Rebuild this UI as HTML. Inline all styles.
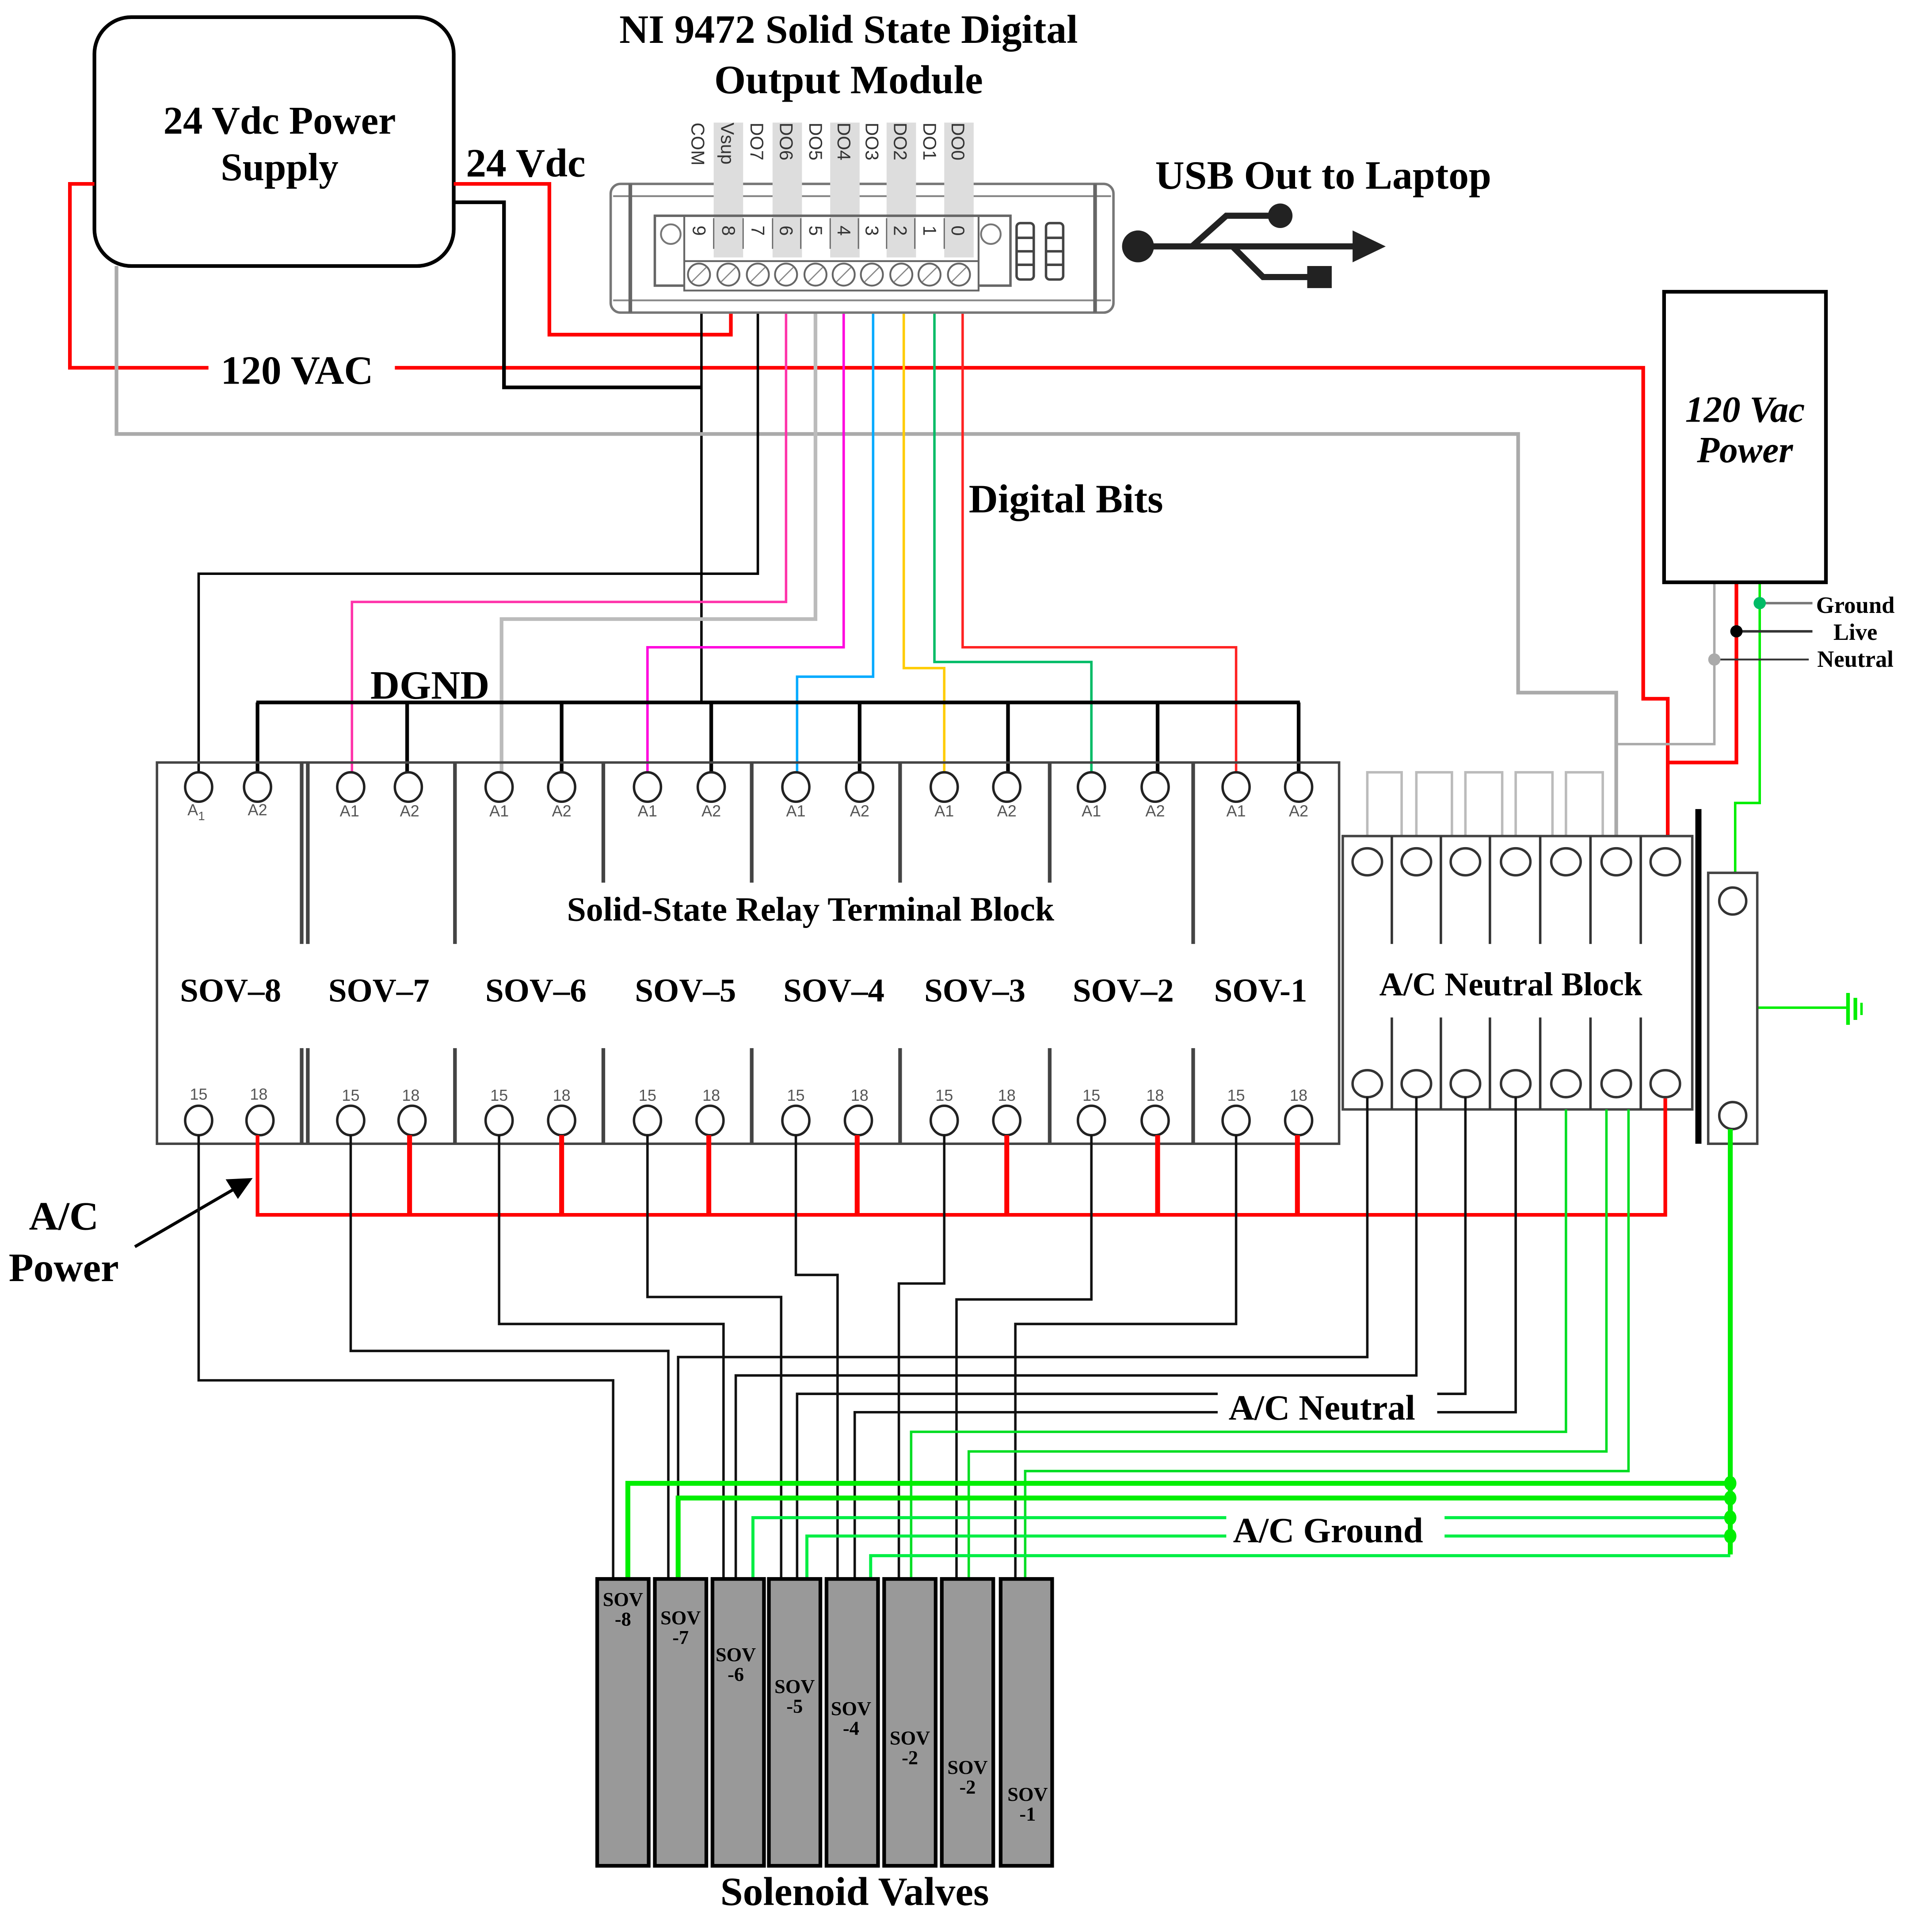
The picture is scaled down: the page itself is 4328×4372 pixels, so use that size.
<!DOCTYPE html>
<html><head><meta charset="utf-8"><style>
html,body{margin:0;padding:0;background:#fff;}
svg{display:block;}
text{font-family:"Liberation Serif",serif;font-weight:bold;fill:#000;}
.s{font-family:"Liberation Sans",sans-serif;font-weight:normal;fill:#555;}
</style></head><body>
<svg xmlns="http://www.w3.org/2000/svg" width="4328" height="4372" viewBox="0 0 1560 1576" preserveAspectRatio="none">
<g fill="none" stroke-linejoin="miter">
<rect x="77" y="14" width="293" height="203" rx="30" stroke="#000" stroke-width="3"/>
<polyline points="77,150 57,150 57,300 170,300" stroke="#f00" stroke-width="3"/>
<polyline points="322,300 1340,300 1340,570 1360,570 1360,682" stroke="#f00" stroke-width="3"/>
<polyline points="1416,476 1416,622 1360,622" stroke="#f00" stroke-width="3"/>
<polyline points="370,150 448,150 448,273 596,273 596,236" stroke="#f00" stroke-width="3"/>
<polyline points="370,165 411,165 411,316 572,316" stroke="#000" stroke-width="3"/>
<line x1="572" y1="236" x2="572" y2="573" stroke="#000" stroke-width="2"/>
<polyline points="95,217 95,354 1238,354 1238,565 1318,565 1318,682" stroke="#aaa" stroke-width="3"/>
<polyline points="1318,607 1398,607 1398,476" stroke="#aaa" stroke-width="2"/>
<polyline points="1435,476 1435,655 1415,655 1415,712" stroke="#0e0" stroke-width="2"/>
<line x1="1433" y1="822" x2="1507" y2="822" stroke="#0e0" stroke-width="2"/>
<line x1="1507" y1="810" x2="1507" y2="836" stroke="#0e0" stroke-width="3"/>
<line x1="1513" y1="814" x2="1513" y2="832" stroke="#0e0" stroke-width="3"/>
<line x1="1518" y1="818" x2="1518" y2="828" stroke="#0e0" stroke-width="2"/>
<polyline points="618,236 618,468 162,468 162,631" stroke="#000" stroke-width="2"/>
<polyline points="641,236 641,491 287,491 287,631" stroke="#f3a" stroke-width="2"/>
<polyline points="665,236 665,505 409,505 409,631" stroke="#bbb" stroke-width="3"/>
<polyline points="688,236 688,528 528,528 528,631" stroke="#f0d" stroke-width="2"/>
<polyline points="712,236 712,552 650,552 650,631" stroke="#0af" stroke-width="2"/>
<polyline points="737,236 737,545 770,545 770,631" stroke="#fc0" stroke-width="2"/>
<polyline points="762,236 762,540 890,540 890,631" stroke="#0b6" stroke-width="2"/>
<polyline points="785,236 785,528 1008,528 1008,631" stroke="#f22" stroke-width="2"/>
<line x1="209" y1="573" x2="1060" y2="573" stroke="#000" stroke-width="3"/>
<g stroke="#000" stroke-width="3">
<line x1="210" y1="573" x2="210" y2="631"/><line x1="332" y1="573" x2="332" y2="631"/>
<line x1="458" y1="573" x2="458" y2="631"/><line x1="580" y1="573" x2="580" y2="631"/>
<line x1="701" y1="573" x2="701" y2="631"/><line x1="822" y1="573" x2="822" y2="631"/>
<line x1="944" y1="573" x2="944" y2="631"/><line x1="1059" y1="573" x2="1059" y2="631"/>
</g>
<rect x="128" y="622" width="964" height="311" stroke="#444" stroke-width="2"/>
<g stroke="#444" stroke-width="3">
<line x1="246" y1="622" x2="246" y2="770"/><line x1="251" y1="622" x2="251" y2="770"/>
<line x1="246" y1="855" x2="246" y2="933"/><line x1="251" y1="855" x2="251" y2="933"/>
<line x1="371" y1="622" x2="371" y2="770"/><line x1="371" y1="855" x2="371" y2="933"/>
<line x1="492" y1="622" x2="492" y2="720"/><line x1="492" y1="855" x2="492" y2="933"/>
<line x1="613" y1="622" x2="613" y2="720"/><line x1="613" y1="855" x2="613" y2="933"/>
<line x1="734" y1="622" x2="734" y2="720"/><line x1="734" y1="855" x2="734" y2="933"/>
<line x1="856" y1="622" x2="856" y2="720"/><line x1="856" y1="855" x2="856" y2="933"/>
<line x1="973" y1="622" x2="973" y2="770"/><line x1="973" y1="855" x2="973" y2="933"/>
</g>
<g stroke="#222" stroke-width="2" fill="#fff">
<ellipse cx="162" cy="642" rx="11" ry="12"/><ellipse cx="210" cy="642" rx="11" ry="12"/>
<ellipse cx="286" cy="642" rx="11" ry="12"/><ellipse cx="333" cy="642" rx="11" ry="12"/>
<ellipse cx="407" cy="642" rx="11" ry="12"/><ellipse cx="458" cy="642" rx="11" ry="12"/>
<ellipse cx="528" cy="642" rx="11" ry="12"/><ellipse cx="580" cy="642" rx="11" ry="12"/>
<ellipse cx="649" cy="642" rx="11" ry="12"/><ellipse cx="701" cy="642" rx="11" ry="12"/>
<ellipse cx="770" cy="642" rx="11" ry="12"/><ellipse cx="821" cy="642" rx="11" ry="12"/>
<ellipse cx="890" cy="642" rx="11" ry="12"/><ellipse cx="942" cy="642" rx="11" ry="12"/>
<ellipse cx="1008" cy="642" rx="11" ry="12"/><ellipse cx="1059" cy="642" rx="11" ry="12"/>
<ellipse cx="162" cy="914" rx="11" ry="12"/><ellipse cx="212" cy="914" rx="11" ry="12"/>
<ellipse cx="286" cy="914" rx="11" ry="12"/><ellipse cx="336" cy="914" rx="11" ry="12"/>
<ellipse cx="407" cy="914" rx="11" ry="12"/><ellipse cx="458" cy="914" rx="11" ry="12"/>
<ellipse cx="528" cy="914" rx="11" ry="12"/><ellipse cx="579" cy="914" rx="11" ry="12"/>
<ellipse cx="649" cy="914" rx="11" ry="12"/><ellipse cx="700" cy="914" rx="11" ry="12"/>
<ellipse cx="770" cy="914" rx="11" ry="12"/><ellipse cx="821" cy="914" rx="11" ry="12"/>
<ellipse cx="890" cy="914" rx="11" ry="12"/><ellipse cx="942" cy="914" rx="11" ry="12"/>
<ellipse cx="1008" cy="914" rx="11" ry="12"/><ellipse cx="1059" cy="914" rx="11" ry="12"/>
</g>
<g stroke="#bbb" stroke-width="2">
<polyline points="1115,682 1115,630 1143,630 1143,682"/>
<polyline points="1155,682 1155,630 1184,630 1184,682"/>
<polyline points="1195,682 1195,630 1225,630 1225,682"/>
<polyline points="1236,682 1236,630 1266,630 1266,682"/>
<polyline points="1277,682 1277,630 1307,630 1307,682"/>
</g>
<rect x="1095" y="682" width="285" height="223" stroke="#444" stroke-width="2"/>
<g stroke="#333" stroke-width="2">
<line x1="1135" y1="682" x2="1135" y2="770"/><line x1="1135" y1="830" x2="1135" y2="905"/>
<line x1="1175" y1="682" x2="1175" y2="770"/><line x1="1175" y1="830" x2="1175" y2="905"/>
<line x1="1215" y1="682" x2="1215" y2="770"/><line x1="1215" y1="830" x2="1215" y2="905"/>
<line x1="1256" y1="682" x2="1256" y2="770"/><line x1="1256" y1="830" x2="1256" y2="905"/>
<line x1="1297" y1="682" x2="1297" y2="770"/><line x1="1297" y1="830" x2="1297" y2="905"/>
<line x1="1338" y1="682" x2="1338" y2="770"/><line x1="1338" y1="830" x2="1338" y2="905"/>
</g>
<g stroke="#333" stroke-width="2" fill="#fff">
<ellipse cx="1115" cy="703" rx="12" ry="11"/><ellipse cx="1155" cy="703" rx="12" ry="11"/>
<ellipse cx="1195" cy="703" rx="12" ry="11"/><ellipse cx="1236" cy="703" rx="12" ry="11"/>
<ellipse cx="1277" cy="703" rx="12" ry="11"/><ellipse cx="1318" cy="703" rx="12" ry="11"/>
<ellipse cx="1358" cy="703" rx="12" ry="11"/>
<ellipse cx="1115" cy="884" rx="12" ry="11"/><ellipse cx="1155" cy="884" rx="12" ry="11"/>
<ellipse cx="1195" cy="884" rx="12" ry="11"/><ellipse cx="1236" cy="884" rx="12" ry="11"/>
<ellipse cx="1277" cy="884" rx="12" ry="11"/><ellipse cx="1318" cy="884" rx="12" ry="11"/>
<ellipse cx="1358" cy="884" rx="12" ry="11"/>
</g>
<line x1="1385" y1="660" x2="1385" y2="933" stroke="#000" stroke-width="5"/>
<rect x="1393" y="712" width="40" height="221" stroke="#444" stroke-width="2"/>
<ellipse cx="1413" cy="735" rx="11" ry="11" stroke="#333" stroke-width="2"/>
<ellipse cx="1413" cy="910" rx="11" ry="11" stroke="#333" stroke-width="2"/>
<rect x="1357" y="238" width="132" height="237" stroke="#000" stroke-width="3"/>
<line x1="1435" y1="492" x2="1478" y2="492" stroke="#777" stroke-width="2"/>
<line x1="1416" y1="515" x2="1478" y2="515" stroke="#333" stroke-width="2"/>
<line x1="1398" y1="538" x2="1475" y2="538" stroke="#333" stroke-width="1.5"/>
<circle cx="1435" cy="492" r="5" fill="#0b6" stroke="none"/>
<circle cx="1416" cy="515" r="5" fill="#000" stroke="none"/>
<circle cx="1398" cy="538" r="5" fill="#aaa" stroke="none"/>
<polyline points="210,926 210,991 1358,991 1358,896" stroke="#f00" stroke-width="3"/>
<g stroke="#f00" stroke-width="4">
<line x1="334" y1="926" x2="334" y2="991"/><line x1="458" y1="926" x2="458" y2="991"/>
<line x1="578" y1="926" x2="578" y2="991"/><line x1="699" y1="926" x2="699" y2="991"/>
<line x1="821" y1="926" x2="821" y2="991"/><line x1="944" y1="926" x2="944" y2="991"/>
<line x1="1058" y1="926" x2="1058" y2="991"/>
</g>
<line x1="110" y1="1017" x2="196" y2="967" stroke="#000" stroke-width="2.5"/>
<polygon points="206,961 184,962 194,978" fill="#000" stroke="none"/>
<g stroke="#111" stroke-width="2">
<polyline points="162,926 162,1126 500,1126 500,1288"/>
<polyline points="286,926 286,1102 545,1102 545,1288"/>
<polyline points="407,926 407,1080 590,1080 590,1288"/>
<polyline points="528,926 528,1058 637,1058 637,1288"/>
<polyline points="649,926 649,1040 683,1040 683,1288"/>
<polyline points="770,926 770,1047 733,1047 733,1288"/>
<polyline points="890,926 890,1060 780,1060 780,1288"/>
<polyline points="1008,926 1008,1080 828,1080 828,1288"/>
<polyline points="1115,895 1115,1107 553,1107 553,1288"/>
<polyline points="1155,895 1155,1122 600,1122 600,1288"/>
<polyline points="1195,895 1195,1137 1172,1137"/>
<polyline points="993,1137 650,1137 650,1288"/>
<polyline points="1236,895 1236,1152 1172,1152"/>
<polyline points="993,1152 697,1152 697,1288"/>
</g>
<g stroke="#0d2" stroke-width="2">
<polyline points="1277,905 1277,1168 743,1168 743,1288"/>
<polyline points="1310,905 1310,1184 790,1184 790,1288"/>
<polyline points="1328,905 1328,1200 836,1200 836,1288"/>
</g>
<line x1="1411" y1="921" x2="1411" y2="1268" stroke="#0e0" stroke-width="4"/>
<polyline points="1411,1210 512,1210 512,1288" stroke="#0e0" stroke-width="4"/>
<polyline points="1411,1222 553,1222 553,1288" stroke="#0e0" stroke-width="4"/>
<polyline points="1411,1238 1178,1238" stroke="#0e4" stroke-width="2.5"/>
<polyline points="1000,1238 614,1238 614,1288" stroke="#0e4" stroke-width="2.5"/>
<polyline points="1411,1253 1178,1253" stroke="#0e4" stroke-width="2.5"/>
<polyline points="1000,1253 658,1253 658,1288" stroke="#0e4" stroke-width="2.5"/>
<polyline points="1411,1269 710,1269 710,1288" stroke="#0e4" stroke-width="2.5"/>
<g fill="#0e0" stroke="none">
<ellipse cx="1411" cy="1210" rx="5" ry="6"/><ellipse cx="1411" cy="1222" rx="5" ry="6"/>
<ellipse cx="1411" cy="1238" rx="5" ry="6"/><ellipse cx="1411" cy="1253" rx="5" ry="6"/>
</g>
<g fill="#999" stroke="#000" stroke-width="3">
<rect x="487" y="1288" width="42" height="234"/><rect x="534" y="1288" width="42" height="234"/>
<rect x="581" y="1288" width="42" height="234"/><rect x="627" y="1288" width="42" height="234"/>
<rect x="674" y="1288" width="42" height="234"/><rect x="721" y="1288" width="42" height="234"/>
<rect x="768" y="1288" width="42" height="234"/><rect x="816" y="1288" width="42" height="234"/>
</g>
<rect x="498" y="150" width="410" height="105" rx="8" fill="#fff" stroke="#777" stroke-width="2"/>
<line x1="500" y1="160" x2="906" y2="160" stroke="#888" stroke-width="1.5"/>
<line x1="500" y1="245" x2="906" y2="245" stroke="#888" stroke-width="1.5"/>
<line x1="514" y1="150" x2="514" y2="255" stroke="#666" stroke-width="3"/>
<line x1="893" y1="150" x2="893" y2="255" stroke="#666" stroke-width="3"/>
<g fill="#ddd" stroke="none">
<rect x="582" y="100" width="24" height="110"/><rect x="630" y="100" width="24" height="110"/>
<rect x="677" y="100" width="24" height="110"/><rect x="723" y="100" width="24" height="110"/>
<rect x="770" y="100" width="24" height="110"/>
</g>
<rect x="534" y="176" width="290" height="57" fill="none" stroke="#666" stroke-width="2"/>
<rect x="558" y="176" width="240" height="60" fill="none" stroke="#666" stroke-width="1.5"/>
<rect x="558" y="213" width="240" height="24" fill="#fff" stroke="#666" stroke-width="1.5"/>
<g stroke="#666" stroke-width="1">
<line x1="582" y1="178" x2="582" y2="203"/><line x1="606" y1="178" x2="606" y2="203"/>
<line x1="630" y1="178" x2="630" y2="203"/><line x1="653" y1="178" x2="653" y2="203"/>
<line x1="677" y1="178" x2="677" y2="203"/><line x1="700" y1="178" x2="700" y2="203"/>
<line x1="723" y1="178" x2="723" y2="203"/><line x1="746" y1="178" x2="746" y2="203"/>
<line x1="770" y1="178" x2="770" y2="203"/>
</g>
<circle cx="547" cy="191" r="8" stroke="#777" stroke-width="1.5"/>
<circle cx="808" cy="191" r="8" stroke="#777" stroke-width="1.5"/>
<g stroke="#666" stroke-width="1.5" fill="#fff">
<ellipse cx="570" cy="224" rx="9" ry="9"/><ellipse cx="594" cy="224" rx="9" ry="9"/>
<ellipse cx="618" cy="224" rx="9" ry="9"/><ellipse cx="641" cy="224" rx="9" ry="9"/>
<ellipse cx="665" cy="224" rx="9" ry="9"/><ellipse cx="688" cy="224" rx="9" ry="9"/>
<ellipse cx="711" cy="224" rx="9" ry="9"/><ellipse cx="735" cy="224" rx="9" ry="9"/>
<ellipse cx="758" cy="224" rx="9" ry="9"/><ellipse cx="782" cy="224" rx="9" ry="9"/>
</g>
<g stroke="#888" stroke-width="1">
<line x1="564" y1="230" x2="576" y2="218"/><line x1="588" y1="230" x2="600" y2="218"/>
<line x1="612" y1="230" x2="624" y2="218"/><line x1="635" y1="230" x2="647" y2="218"/>
<line x1="659" y1="230" x2="671" y2="218"/><line x1="682" y1="230" x2="694" y2="218"/>
<line x1="705" y1="230" x2="717" y2="218"/><line x1="729" y1="230" x2="741" y2="218"/>
<line x1="752" y1="230" x2="764" y2="218"/><line x1="776" y1="230" x2="788" y2="218"/>
</g>
<g stroke="#444" stroke-width="2">
<rect x="829" y="182" width="14" height="46" rx="3"/><rect x="853" y="182" width="14" height="46" rx="3"/>
<line x1="829" y1="194" x2="843" y2="194"/><line x1="829" y1="205" x2="843" y2="205"/><line x1="829" y1="216" x2="843" y2="216"/>
<line x1="853" y1="194" x2="867" y2="194"/><line x1="853" y1="205" x2="867" y2="205"/><line x1="853" y1="216" x2="867" y2="216"/>
</g>
<circle cx="928" cy="201" r="13" fill="#222" stroke="none"/>
<line x1="928" y1="201" x2="1110" y2="201" stroke="#222" stroke-width="5"/>
<polygon points="1130,201 1103,188 1103,214" fill="#222" stroke="none"/>
<polyline points="972,201 1000,176 1044,176" stroke="#222" stroke-width="5"/>
<circle cx="1044" cy="176" r="10" fill="#222" stroke="none"/>
<polyline points="1005,201 1030,226 1068,226" stroke="#222" stroke-width="5"/>
<rect x="1066" y="217" width="20" height="18" fill="#222" stroke="none"/>
</g>
<text x="228" y="109" font-size="32" text-anchor="middle">24 Vdc Power</text>
<text x="228" y="147" font-size="32" text-anchor="middle">Supply</text>
<text x="692" y="35" font-size="33" text-anchor="middle">NI 9472 Solid State Digital</text>
<text x="692" y="76" font-size="33" text-anchor="middle">Output Module</text>
<text x="380" y="144" font-size="33">24 Vdc</text>
<text x="180" y="313" font-size="33">120 VAC</text>
<text x="942" y="154" font-size="33">USB Out to Laptop</text>
<text x="790" y="418" font-size="33">Digital Bits</text>
<text x="302" y="570" font-size="33">DGND</text>
<text x="661" y="751" font-size="28" text-anchor="middle">Solid-State Relay Terminal Block</text>
<g font-size="27" text-anchor="middle">
<text x="188" y="817">SOV–8</text><text x="309" y="817">SOV–7</text><text x="437" y="817">SOV–6</text>
<text x="559" y="817">SOV–5</text><text x="680" y="817">SOV–4</text><text x="795" y="817">SOV–3</text>
<text x="916" y="817">SOV–2</text><text x="1028" y="817">SOV-1</text>
<text x="1232" y="812">A/C Neutral Block</text>
</g>
<g font-style="italic" font-size="30" text-anchor="middle">
<text x="1423" y="344">120 Vac</text><text x="1423" y="377">Power</text>
</g>
<g font-size="19" text-anchor="middle">
<text x="1513" y="500">Ground</text><text x="1513" y="522">Live</text><text x="1513" y="544">Neutral</text>
</g>
<text x="52" y="1003" font-size="33" text-anchor="middle">A/C</text>
<text x="52" y="1045" font-size="33" text-anchor="middle">Power</text>
<text x="1078" y="1158" font-size="29" text-anchor="middle">A/C Neutral</text>
<text x="1083" y="1258" font-size="29" text-anchor="middle">A/C Ground</text>
<text x="697" y="1554" font-size="33" text-anchor="middle">Solenoid Valves</text>
<g font-size="16" text-anchor="middle">
<text x="508" y="1310">SOV</text><text x="508" y="1326">-8</text>
<text x="555" y="1325">SOV</text><text x="555" y="1341">-7</text>
<text x="600" y="1355">SOV</text><text x="600" y="1371">-6</text>
<text x="648" y="1381">SOV</text><text x="648" y="1397">-5</text>
<text x="694" y="1399">SOV</text><text x="694" y="1415">-4</text>
<text x="742" y="1423">SOV</text><text x="742" y="1439">-2</text>
<text x="789" y="1447">SOV</text><text x="789" y="1463">-2</text>
<text x="838" y="1469">SOV</text><text x="838" y="1485">-1</text>
</g>
<g class="s" font-size="13" text-anchor="middle">
<text class="s" x="160" y="665">A<tspan font-size="10" dy="4">1</tspan></text><text class="s" x="210" y="665">A2</text>
<text class="s" x="285" y="666">A1</text><text class="s" x="334" y="666">A2</text>
<text class="s" x="407" y="666">A1</text><text class="s" x="458" y="666">A2</text>
<text class="s" x="528" y="666">A1</text><text class="s" x="580" y="666">A2</text>
<text class="s" x="649" y="666">A1</text><text class="s" x="701" y="666">A2</text>
<text class="s" x="770" y="666">A1</text><text class="s" x="821" y="666">A2</text>
<text class="s" x="890" y="666">A1</text><text class="s" x="942" y="666">A2</text>
<text class="s" x="1008" y="666">A1</text><text class="s" x="1059" y="666">A2</text>
<text class="s" x="162" y="897">15</text><text class="s" x="211" y="897">18</text>
<text class="s" x="286" y="898">15</text><text class="s" x="335" y="898">18</text>
<text class="s" x="407" y="898">15</text><text class="s" x="458" y="898">18</text>
<text class="s" x="528" y="898">15</text><text class="s" x="580" y="898">18</text>
<text class="s" x="649" y="898">15</text><text class="s" x="701" y="898">18</text>
<text class="s" x="770" y="898">15</text><text class="s" x="821" y="898">18</text>
<text class="s" x="890" y="898">15</text><text class="s" x="942" y="898">18</text>
<text class="s" x="1008" y="898">15</text><text class="s" x="1059" y="898">18</text>
</g>
<g font-family="Liberation Sans" font-size="15">
<text class="s" style="fill:#333" transform="translate(564,100) rotate(90)">COM</text>
<text class="s" style="fill:#333" transform="translate(588,100) rotate(90)">Vsup</text>
<text class="s" style="fill:#333" transform="translate(612,100) rotate(90)">DO7</text>
<text class="s" style="fill:#333" transform="translate(636,100) rotate(90)">DO6</text>
<text class="s" style="fill:#333" transform="translate(660,100) rotate(90)">DO5</text>
<text class="s" style="fill:#333" transform="translate(683,100) rotate(90)">DO4</text>
<text class="s" style="fill:#333" transform="translate(706,100) rotate(90)">DO3</text>
<text class="s" style="fill:#333" transform="translate(729,100) rotate(90)">DO2</text>
<text class="s" style="fill:#333" transform="translate(753,100) rotate(90)">DO1</text>
<text class="s" style="fill:#333" transform="translate(776,100) rotate(90)">DO0</text>
<text class="s" style="fill:#333" transform="translate(565,184) rotate(90)">9</text>
<text class="s" style="fill:#333" transform="translate(589,184) rotate(90)">8</text>
<text class="s" style="fill:#333" transform="translate(613,184) rotate(90)">7</text>
<text class="s" style="fill:#333" transform="translate(636,184) rotate(90)">6</text>
<text class="s" style="fill:#333" transform="translate(660,184) rotate(90)">5</text>
<text class="s" style="fill:#333" transform="translate(683,184) rotate(90)">4</text>
<text class="s" style="fill:#333" transform="translate(706,184) rotate(90)">3</text>
<text class="s" style="fill:#333" transform="translate(729,184) rotate(90)">2</text>
<text class="s" style="fill:#333" transform="translate(753,184) rotate(90)">1</text>
<text class="s" style="fill:#333" transform="translate(776,184) rotate(90)">0</text>
</g>
</svg>
</body></html>
